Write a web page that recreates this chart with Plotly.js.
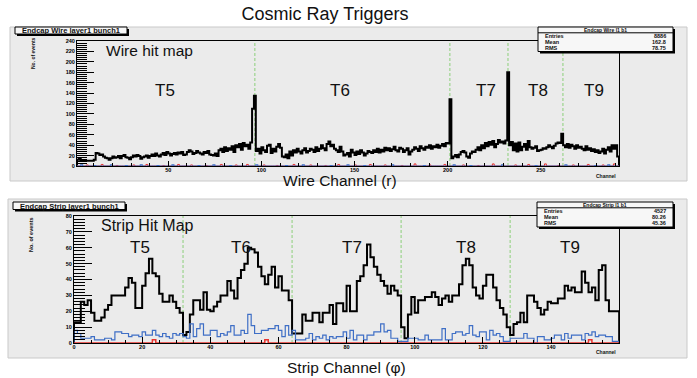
<!DOCTYPE html>
<html><head><meta charset="utf-8">
<script src="https://cdn.plot.ly/plotly-3.0.1.min.js"></script>
<style>html,body{margin:0;padding:0;background:#fff;}#chart{width:697px;height:378px;}</style>
</head><body><div id="chart"></div>
<script>
// ---------------- DATA ----------------
const wireFirstChannel = 1;
const wireBlack = [
12,14,11,10,10,10,10,10,10,12,
25,24,21,22,18,16,15,12,15,18,
16,17,19,15,19,21,17,16,13,17,
20,18,21,19,14,17,18,20,16,19,
22,19,24,20,18,22,25,21,27,24,
20,23,25,22,26,24,27,21,22,27,
30,28,23,25,29,26,24,22,27,25,
29,22,21,20,24,19,30,33,27,36,
29,34,31,38,27,40,36,42,31,44,
38,41,33,45,110,135,29,33,24,36,
30,27,39,41,25,33,28,37,42,35,
18,17,22,15,28,20,30,26,33,28,
24,30,34,26,29,33,31,27,36,29,
33,40,34,30,42,47,38,41,33,30,
27,37,28,20,22,25,18,31,26,21,
28,23,30,26,20,24,29,27,25,30,
27,33,26,31,28,35,30,34,29,32,
37,30,28,35,33,27,30,34,22,28,
31,36,33,29,38,34,31,37,35,40,
33,38,36,41,35,39,42,38,44,43,
128,15,18,21,17,22,27,29,26,18,
16,24,28,27,31,36,30,40,34,44,
38,46,41,48,36,42,50,45,47,43,
49,180,40,46,30,43,28,45,30,37,
42,31,48,36,33,35,38,29,30,31,
34,33,36,40,37,34,39,43,45,44,
62,40,36,42,35,41,38,33,40,35,
37,33,30,38,31,34,29,32,27,30,
25,28,33,24,31,36,28,40,33,40,
18];
const wireRedChannels = [6,14,22,31,38,47,55,62,70,78,86,92,101,108,117,126,134,141,150,158,166,175,182,190,198,208,216,224,236,243,252,259,267,275,283,289];
const wireRedCounts   = [2,3,1,2,3,1,3,2,1,3,2,3,2,1,3,2,1,3,2,3,2,1,4,2,3,2,1,4,2,3,4,1,2,3,2,4];
const wireBlueChannels = [3,10,19,27,35,44,52,66,74,83,97,113,122,137,146,155,170,187,203,212,229,247,263,279,286];
const wireBlueCounts   = [2,1,2,1,2,1,2,1,2,1,2,1,2,1,2,1,2,1,2,1,2,1,2,1,2];
const wireBoundaries = [96.5, 201.2, 232.4, 261.9];

const stripFirstChannel = 0;
const stripBlack = [
13,13,26,24,27,19,14,14,16,21,
24,30,30,30,30,35,41,38,22,22,
36,44,53,44,42,31,26,26,30,26,
22,19,5,7,18,27,27,21,32,21,
20,23,26,30,30,39,33,28,41,46,
50,60,59,57,48,42,37,43,48,35,
42,33,33,27,6,6,6,18,14,14,
19,19,13,19,19,24,12,25,25,20,
36,20,20,39,42,49,62,54,48,43,
39,36,31,36,33,30,10,3,18,29,
19,27,27,29,29,32,29,24,28,30,
26,30,30,37,49,53,49,35,30,28,
36,43,43,35,27,22,18,10,5,12,
13,19,13,30,30,26,22,18,21,26,
25,25,28,28,36,33,35,32,32,45,
38,32,35,27,46,49,27,20,20,20];
const stripBlue = [
8,6,3,3,3,4,2,2,2,3,
3,2,7,7,6,6,4,5,5,4,
7,5,5,8,5,4,6,4,3,6,
5,6,4,3,12,4,9,12,5,5,
8,8,4,6,5,7,11,5,5,8,
6,18,11,6,6,8,8,9,9,11,
8,4,11,5,8,2,2,2,3,6,
2,4,3,5,2,4,3,4,4,7,
3,8,2,5,5,2,5,5,7,7,
12,7,8,3,3,1,1,1,3,3,
3,2,2,5,2,2,2,2,9,2,
2,6,7,7,5,6,11,5,4,7,
7,2,8,5,6,4,1,1,3,3,
3,3,6,3,3,0,4,4,2,2,
3,5,5,2,6,3,5,5,5,2,
6,5,7,4,5,5,4,4,1,1];
const stripRedChannels = [23, 56, 151];
const stripRedCounts   = [2, 2, 2];
const stripBoundaries = [32, 64, 96, 128];

const sectorLabels = ['T5','T6','T7','T8','T9'];
const wireStats  = {name:'Endcap Wire l1 b1',  entries:'8886', mean:'162.8', rms:'78.75'};
const stripStats = {name:'Endcap Strip l1 b1', entries:'4527', mean:'80.26', rms:'45.36'};

// ---------------- HELPERS ----------------
const W = 697, H = 378;
const px = x => x / W, py = y => 1 - y / H;
const FONT = 'Liberation Sans, Arial, Helvetica, sans-serif';

function dense(n, first, chans, counts) {
  const a = new Array(n).fill(0);
  chans.forEach((c, i) => { a[c - first] = counts[i]; });
  return a;
}
function step(first, vals) {
  const xs = [first], ys = [0];
  vals.forEach((v, i) => { xs.push(first + i); ys.push(v); });
  xs.push(first + vals.length); ys.push(vals[vals.length - 1]);
  xs.push(first + vals.length); ys.push(0);
  return {xs, ys};
}
function histTrace(first, vals, color, width, xa, ya) {
  const s = step(first, vals);
  return {x: s.xs, y: s.ys, type: 'scatter', mode: 'lines', xaxis: xa, yaxis: ya,
          line: {shape: 'hv', color: color, width: width}, hoverinfo: 'skip'};
}

const wireRed = dense(wireBlack.length, wireFirstChannel, wireRedChannels, wireRedCounts);
const wireBlue = dense(wireBlack.length, wireFirstChannel, wireBlueChannels, wireBlueCounts);
const stripRed = dense(stripBlack.length, stripFirstChannel, stripRedChannels, stripRedCounts);

const BLUE = '#3f6fc6', RED = '#e8342f', GREEN = '#8ccf7a';

const traces = [
  histTrace(wireFirstChannel, wireBlack, '#000', 2, 'x', 'y'),
  histTrace(wireFirstChannel, wireRed, RED, 1, 'x', 'y'),
  histTrace(wireFirstChannel, wireBlue, BLUE, 1.2, 'x', 'y'),
  histTrace(stripFirstChannel, stripBlack, '#000', 2, 'x2', 'y2'),
  histTrace(stripFirstChannel, stripBlue, BLUE, 1.2, 'x2', 'y2'),
  histTrace(stripFirstChannel, stripRed, RED, 1.5, 'x2', 'y2')
];

const tickFont = {family: FONT, size: 5.5, color: '#000', weight: 'bold'};
function axis(domain, range, dtick, len, mdtick, mlen, standoff) {
  return {domain: domain, range: range, dtick: dtick, tick0: 0, ticks: 'inside', ticklen: len,
          tickwidth: 1, tickcolor: '#000', showline: true, linecolor: '#000', linewidth: 1,
          mirror: true, showgrid: false, zeroline: false, tickfont: tickFont, fixedrange: true,
          ticklabelstandoff: standoff,
          minor: {dtick: mdtick, ticks: 'inside', ticklen: mlen, tickcolor: '#000', tickwidth: 1, showgrid: false}};
}

const shapes = [];
// grey pads
shapes.push({type:'rect', xref:'paper', yref:'paper', layer:'below', x0:px(10), x1:px(687), y0:py(181), y1:py(27),
             fillcolor:'#ebebeb', line:{color:'#c9c9c9', width:1}});
shapes.push({type:'rect', xref:'paper', yref:'paper', layer:'below', x0:px(8), x1:px(687), y0:py(358), y1:py(199),
             fillcolor:'#ebebeb', line:{color:'#c9c9c9', width:1}});
// sector boundaries
wireBoundaries.forEach(b => shapes.push({type:'line', xref:'x', yref:'y', layer:'below', x0:b, x1:b, y0:0, y1:240,
             line:{color:GREEN, width:1, dash:'3px,2px'}}));
stripBoundaries.forEach(b => shapes.push({type:'line', xref:'x2', yref:'y2', layer:'below', x0:b, x1:b, y0:0, y1:80,
             line:{color:GREEN, width:1, dash:'3px,2px'}}));

const annotations = [];
function txt(text, x, y, size, o) {
  o = o || {};
  annotations.push(Object.assign({text: text, xref:'paper', yref:'paper', x:px(x), y:py(y), showarrow:false,
      xanchor:'center', yanchor:'middle', font:{family:FONT, size:size, color:o.color || '#111', weight:o.weight || 'normal'}},
      o.extra || {}));
}
function box(x0, y0, x1, y1) {
  shapes.push({type:'rect', xref:'paper', yref:'paper', layer:'above', x0:px(x0+2), x1:px(x1+2), y0:py(y1+2), y1:py(y0+2),
               fillcolor:'#000', line:{width:0}});
  shapes.push({type:'rect', xref:'paper', yref:'paper', layer:'above', x0:px(x0), x1:px(x1), y0:py(y1), y1:py(y0),
               fillcolor:'#f7f7f7', line:{color:'#000', width:1}});
}
function statsBox(s, x0, y0, x1, y1) {
  box(x0, y0, x1, y1);
  const hy = y0 + 3.2, sep = y0 + 5.8;
  shapes.push({type:'line', xref:'paper', yref:'paper', layer:'above', x0:px(x0), x1:px(x1), y0:py(sep), y1:py(sep),
               line:{color:'#000', width:1}});
  txt(s.name, (x0 + x1) / 2, hy, 5, {weight:'bold'});
  const rows = [['Entries', s.entries], ['Mean', s.mean], ['RMS', s.rms]];
  const rh = (y1 - sep) / 3;
  rows.forEach((r, i) => {
    const yy = sep + rh * (i + 0.45);
    txt(r[0], x0 + 5, yy, 5.5, {weight:'bold', extra:{xanchor:'left'}});
    txt(r[1], x1 - 5, yy, 5.5, {weight:'bold', extra:{xanchor:'right'}});
  });
}
function titleBox(t, x0, y0, x1, y1) {
  box(x0, y0, x1, y1);
  txt(t, (x0 + x1) / 2, (y0 + y1) / 2 + 0.3, 7.5, {weight:'bold'});
}

// top pad
titleBox('Endcap Wire layer1 bunch1', 15, 27, 127, 34);
statsBox(wireStats, 538, 27, 673, 51.5);
txt('Wire hit map', 149, 51, 15.5);
[165, 340, 486, 538, 594].forEach((x, i) => txt(sectorLabels[i], x, 91, 17));
txt('Wire Channel (r)', 340, 180, 15.5);
txt('Channel', 618, 176, 5, {weight:'bold', extra:{xanchor:'right'}});
txt('No. of events', 33, 53, 5, {weight:'bold', extra:{textangle:-90}});

// bottom pad
titleBox('Endcap Strip layer1 bunch1', 13, 202, 125, 209.5);
statsBox(stripStats, 537, 202, 673, 227);
txt('Strip Hit Map', 147, 225, 16);
[140, 241, 352, 466, 570].forEach((x, i) => txt(sectorLabels[i], x, 247, 17));
txt('Strip Channel (φ)', 346, 367, 15.5);
txt('Channel', 618, 352, 5, {weight:'bold', extra:{xanchor:'right'}});
txt('No. of events', 31, 235, 5.5, {weight:'bold', extra:{textangle:-90}});

const layout = {
  width: W, height: H, margin: {l:0, r:0, t:0, b:0, pad:0},
  paper_bgcolor: '#ffffff', plot_bgcolor: 'rgba(0,0,0,0)', showlegend: false,
  title: {text: 'Cosmic Ray Triggers', x: px(325), y: py(14), xref:'paper', yref:'container', xanchor:'center', yanchor:'middle',
          font: {family: FONT, size: 18, color: '#111'}},
  xaxis:  axis([px(77), px(619)], [1, 292], 50, 5, 10, 3, -2),
  yaxis:  axis([py(166), py(41)], [0, 240], 20, 17, 4, 10, 0),
  xaxis2: Object.assign(axis([px(74), px(619)], [0, 159.95], 20, 6, 5, 3, -2), {anchor:'y2'}),
  yaxis2: Object.assign(axis([py(343), py(216)], [0, 80], 10, 18, 2, 11, 0), {anchor:'x2'}),
  shapes: shapes, annotations: annotations
};
layout.xaxis.anchor = 'y';
layout.yaxis.anchor = 'x';

Plotly.newPlot('chart', traces, layout, {staticPlot: true, displayModeBar: false});
</script></body></html>
